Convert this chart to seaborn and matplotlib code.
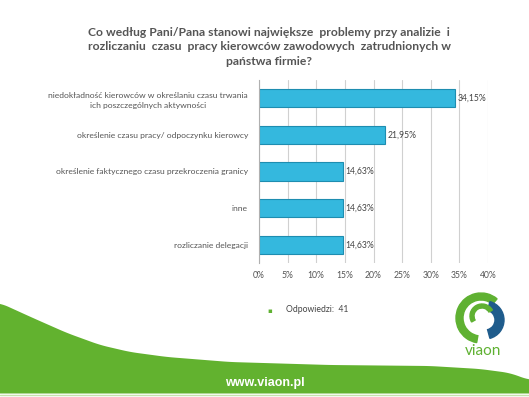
import numpy as np
import pandas as pd
import matplotlib.pyplot as plt
import seaborn as sns
from matplotlib.patches import Wedge

# -------------------------------
# Data
# -------------------------------
categories = [
    "niedokładność kierowców w określaniu czasu trwania\nich poszczególnych aktywności",
    "określenie czasu pracy/ odpoczynku kierowcy",
    "określenie faktycznego czasu przekroczenia granicy",
    "inne",
    "rozliczanie delegacji",
]
values = [34.15, 21.95, 14.63, 14.63, 14.63]
value_labels = ["34,15%", "21,95%", "14,63%", "14,63%", "14,63%"]
x_ticks = [0, 5, 10, 15, 20, 25, 30, 35, 40]
x_tick_labels = [f"{t}%" for t in x_ticks]
answers = 41

df = pd.DataFrame({"kategoria": categories, "procent": values})

sns.set_theme(style="white")
plt.rcParams["font.family"] = ["Lato", "DejaVu Sans"]

W, H = 529, 397
fig = plt.figure(figsize=(W / 100, H / 100), dpi=100)
fig.patch.set_facecolor("white")

# -------------------------------
# Background decoration (green swoosh)
# -------------------------------
bg = fig.add_axes([0, 0, 1, 1], zorder=0)
bg.set_xlim(0, W)
bg.set_ylim(H, 0)
bg.axis("off")
cx = np.array([0, 33, 67, 100, 130, 167, 230, 330, 430, 480, 510, 529])
cy = np.array([303, 318, 333, 345, 352, 357, 362, 365, 366, 369, 373, 380])
xs = np.linspace(0, W, 400)
ys = np.interp(xs, cx, cy)
ys = np.convolve(np.pad(ys, 6, mode="edge"), np.ones(13) / 13, mode="valid")
bg.fill_between(xs, ys, 393.5, color="#62b22f", lw=0)
bg.plot([0, W], [394.5, 394.5], color="#c5e2ad", lw=1)
bg.text(265, 383, "www.viaon.pl", color="white", fontsize=9, fontweight="bold",
        ha="center", va="center", family=["Liberation Sans", "DejaVu Sans"])

# logo
bg.add_patch(Wedge((481, 318), 25, 100, 310, width=7, color="#5fb132"))
bg.add_patch(Wedge((485, 320), 19, 285, 75, width=9, color="#1f5c8c"))
bg.add_patch(Wedge((482, 316), 12, 150, 330, width=4, color="#5fb132"))
bg.text(483, 351, "viaon", color="#5fb132", fontsize=11, ha="center", va="center",
        family=["Lato", "DejaVu Sans"])

# -------------------------------
# Bar chart
# -------------------------------
ax = fig.add_axes([259 / W, 1 - 263 / H, (488 - 259) / W, (263 - 80) / H], zorder=1)
ax.patch.set_alpha(0)
sns.barplot(data=df, x="procent", y="kategoria", orient="h", color="#34b8de",
            edgecolor="#1e8db0", linewidth=0.8, width=0.5, saturation=1, ax=ax)
ax.set_xlim(0, 40)
ax.set_ylim(4.5, -0.5)
ax.set_xticks(x_ticks)
ax.set_xticklabels(x_tick_labels, fontsize=6.2, color="#555555")
ax.set_yticks(range(len(categories)))
ax.set_yticklabels(categories, fontsize=6.1, color="#555555", multialignment="center",
                   linespacing=1.6)
ax.tick_params(axis="y", length=0, pad=8)
ax.tick_params(axis="x", length=0, pad=6)
ax.set_xlabel("")
ax.set_ylabel("")
ax.grid(axis="x", color="#d0d0d0", lw=0.8)
ax.set_axisbelow(True)
for s in ["top", "right", "bottom"]:
    ax.spines[s].set_visible(False)
ax.spines["left"].set_color("#b0b0b0")
ax.spines["left"].set_linewidth(0.8)

for i, (v, lab) in enumerate(zip(values, value_labels)):
    ax.text(v + 0.5, i, lab, fontsize=6.2, color="#444444", va="center", ha="left")

# title
fig.text(269 / W, 1 - 47 / H,
         "Co według Pani/Pana stanowi największe  problemy przy analizie  i\n"
         "rozliczaniu  czasu  pracy kierowców zawodowych  zatrudnionych w\n"
         "państwa firmie?",
         ha="center", va="center", fontsize=8.7, fontweight="bold", color="#555555",
         linespacing=1.4)

# answers count
fig.text(270 / W, 1 - 311 / H, "▪", color="#5fb132", fontsize=5, ha="center", va="center",
         family=["DejaVu Sans"])
fig.text(286 / W, 1 - 310 / H, f"Odpowiedzi:  {answers}", color="#444444", fontsize=6.2,
         ha="left", va="center")

fig.savefig("out.png", dpi=100, facecolor="white")
